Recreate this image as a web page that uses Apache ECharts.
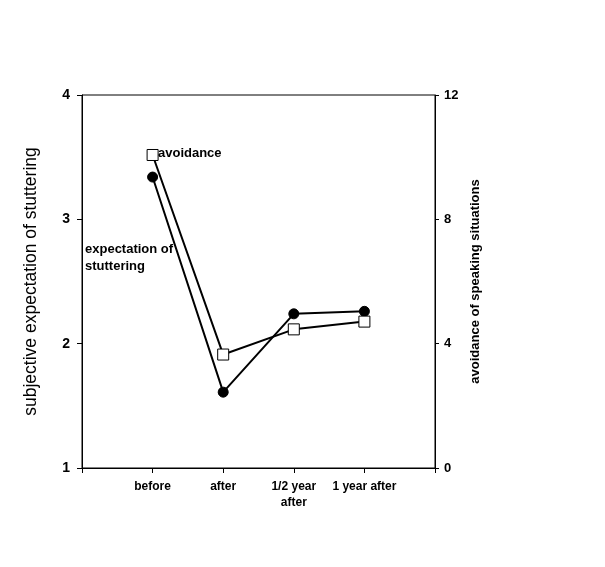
<!DOCTYPE html>
<html style="height: 100%">
<head>
<meta charset="utf-8"/>
<script src="https://cdn.jsdelivr.net/npm/echarts@6/dist/echarts.min.js"></script>
</head>
<body style="height: 100%; margin: 0; background: #fff">
<div id="container" style="width: 605px; height: 567px"></div>
<script>
// categories (blank slots at both ends keep the points off the axes)
var categories = ['', 'before', 'after', '1/2 year\nafter', '1 year after', ''];
// subjective expectation of stuttering, left axis 1..4
var expectation = [null, 3.34, 1.61, 2.24, 2.26, null];
// avoidance of speaking situations, right axis 0..12
var avoidance = [null, 10.07, 3.65, 4.46, 4.71, null];
var leftTicks = [1, 4, 1];   // min, max, interval
var rightTicks = [0, 12, 4];

var font = 'Arial, "Liberation Sans", sans-serif';
var myChart = echarts.init(document.getElementById('container'));

var option = {
	animation: false,
	backgroundColor: '#fff',
	grid: {
		left: 82, right: 170, top: 95, bottom: 99,
		show: true, borderColor: '#000', borderWidth: 1
	},
	xAxis: {
		type: 'category',
		data: categories,
		boundaryGap: false,
		axisLine: {lineStyle: {color: '#000', width: 1}},
		axisTick: {show: true, interval: 0, length: 5, lineStyle: {color: '#000'}},
		axisLabel: {
			interval: 0, color: '#000', fontFamily: font, fontWeight: 'bold',
			fontSize: 12, margin: 11, lineHeight: 16
		},
		splitLine: {show: false}
	},
	yAxis: [{
		type: 'value',
		min: leftTicks[0], max: leftTicks[1], interval: leftTicks[2],
		position: 'left',
		name: 'subjective expectation of stuttering',
		nameLocation: 'middle',
		nameGap: 42,
		nameTextStyle: {color: '#000', fontFamily: font, fontSize: 17.5},
		axisLine: {show: true, lineStyle: {color: '#000', width: 1}},
		axisTick: {show: true, length: 5, lineStyle: {color: '#000'}},
		axisLabel: {color: '#000', fontFamily: font, fontWeight: 'bold', fontSize: 14, margin: 12},
		splitLine: {show: false}
	}, {
		type: 'value',
		min: rightTicks[0], max: rightTicks[1], interval: rightTicks[2],
		position: 'right',
		name: 'avoidance of speaking situations',
		nameLocation: 'middle',
		nameGap: 31,
		nameTextStyle: {color: '#000', fontFamily: font, fontWeight: 'bold', fontSize: 13},
		axisLine: {show: true, lineStyle: {color: '#000', width: 1}},
		axisTick: {show: true, length: 4, lineStyle: {color: '#000'}},
		axisLabel: {color: '#000', fontFamily: font, fontWeight: 'bold', fontSize: 13, margin: 9},
		splitLine: {show: false}
	}],
	series: [{
		name: 'expectation of stuttering',
		type: 'line',
		yAxisIndex: 0,
		data: expectation,
		symbol: 'circle',
		symbolSize: 10,
		lineStyle: {color: '#000', width: 2},
		itemStyle: {color: '#000', borderColor: '#000'},
		z: 3
	}, {
		name: 'avoidance',
		type: 'line',
		yAxisIndex: 1,
		data: avoidance,
		symbol: 'rect',
		symbolSize: 11,
		lineStyle: {color: '#000', width: 2},
		itemStyle: {color: '#fff', borderColor: '#000', borderWidth: 1},
		z: 4
	}],
	graphic: [{
		type: 'text', left: 158, top: 147, z: 10,
		style: {text: 'avoidance', fill: '#000', font: 'bold 13px ' + font}
	}, {
		type: 'text', left: 85, top: 241, z: 1,
		style: {text: 'expectation of\nstuttering', fill: '#000', font: 'bold 13px ' + font, lineHeight: 17}
	}]
};

myChart.setOption(option, true);
</script>
</body>
</html>
